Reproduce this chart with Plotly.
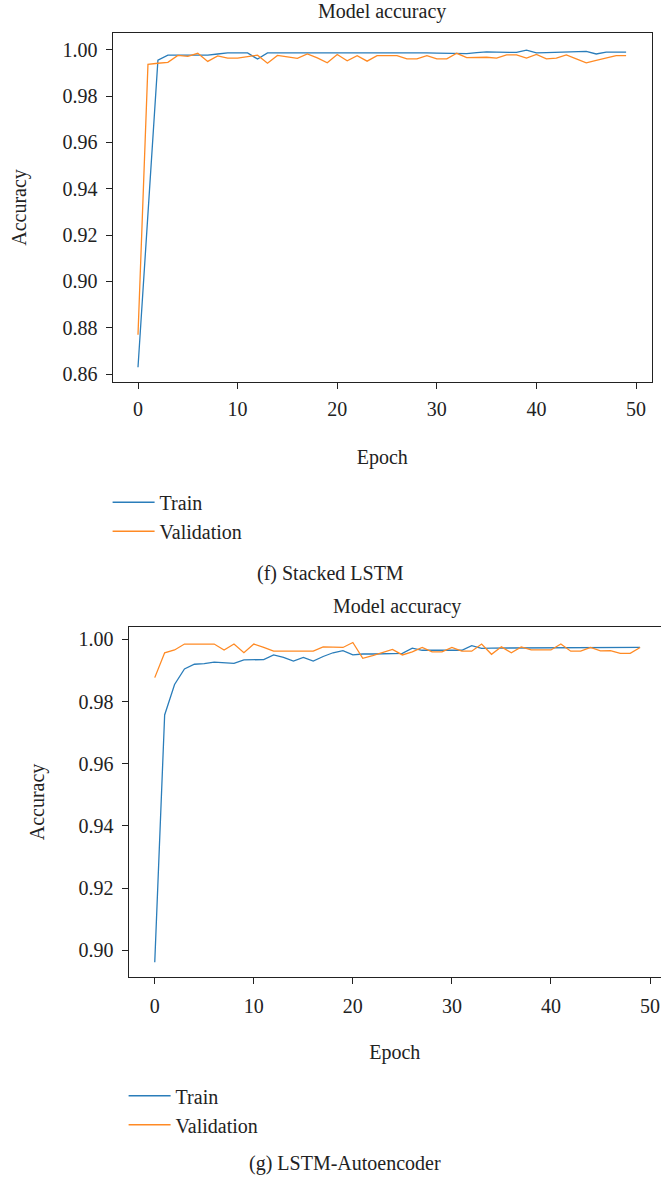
import plotly.graph_objects as go

epochs = list(range(50))

# (f) Stacked LSTM
stacked_train = [0.863, 0.929, 0.9955, 0.9977, 0.9977, 0.9977, 0.9977, 0.9977, 0.9982, 0.9987,
                 0.9987, 0.9987, 0.9960, 0.9987, 0.9987, 0.9987, 0.9987, 0.9987, 0.9987, 0.9987,
                 0.9987, 0.9987, 0.9987, 0.9990, 0.9987, 0.9987, 0.9987, 0.9987, 0.9987, 0.9987,
                 0.9986, 0.9985, 0.9984, 0.9984, 0.9988, 0.9991, 0.9990, 0.9989, 0.9989, 0.9999,
                 0.9987, 0.9988, 0.9989, 0.9990, 0.9991, 0.9993, 0.9982, 0.9990, 0.9990, 0.9990]
stacked_val = [0.877, 0.9937, 0.9942, 0.9946, 0.9976, 0.9972, 0.9985, 0.9950, 0.9974, 0.9964,
               0.9964, 0.9970, 0.9977, 0.9942, 0.9976, 0.9970, 0.9963, 0.9982, 0.9965, 0.9944,
               0.9980, 0.9953, 0.9975, 0.9951, 0.9975, 0.9975, 0.9975, 0.9961, 0.9961, 0.9975,
               0.9961, 0.9961, 0.9985, 0.9966, 0.9968, 0.9968, 0.9964, 0.9978, 0.9978, 0.9964,
               0.9980, 0.9961, 0.9964, 0.9978, 0.9961, 0.9944, 0.9954, 0.9965, 0.9975, 0.9975]

# (g) LSTM-Autoencoder
ae_train = [0.8962, 0.9757, 0.9855, 0.9905, 0.9920, 0.9922, 0.9927, 0.9925, 0.9923, 0.9934,
            0.9935, 0.9935, 0.9950, 0.9942, 0.9930, 0.9942, 0.9930, 0.9945, 0.9957, 0.9964,
            0.9950, 0.9953, 0.9953, 0.9953, 0.9953, 0.9955, 0.9972, 0.9965, 0.9965, 0.9965,
            0.9965, 0.9965, 0.9980, 0.9971, 0.9972, 0.9972, 0.9972, 0.9972, 0.9972, 0.9972,
            0.9974, 0.9974, 0.9974, 0.9974, 0.9974, 0.9974, 0.9974, 0.9974, 0.9974, 0.9974]
ae_val = [0.9877, 0.9957, 0.9966, 0.9985, 0.9985, 0.9985, 0.9985, 0.9966, 0.9985, 0.9957,
          0.9985, 0.9974, 0.9962, 0.9962, 0.9962, 0.9962, 0.9962, 0.9976, 0.9976, 0.9974,
          0.9990, 0.9939, 0.9948, 0.9958, 0.9968, 0.9950, 0.9960, 0.9974, 0.9960, 0.9960,
          0.9974, 0.9962, 0.9962, 0.9985, 0.9952, 0.9976, 0.9957, 0.9976, 0.9966, 0.9966,
          0.9966, 0.9985, 0.9962, 0.9962, 0.9974, 0.9963, 0.9964, 0.9955, 0.9955, 0.9974]

x_ticks = [0, 10, 20, 30, 40, 50]
y_ticks_top = [0.86, 0.88, 0.90, 0.92, 0.94, 0.96, 0.98, 1.00]
y_ticks_bottom = [0.90, 0.92, 0.94, 0.96, 0.98, 1.00]

BLUE = "#2a7dba"
ORANGE = "#ff8a24"
FONT = "Liberation Serif"
W, H = 661, 1181

fig = go.Figure()
fig.add_trace(go.Scatter(x=epochs, y=stacked_train, name="Train", mode="lines",
                         line=dict(color=BLUE, width=1.3), xaxis="x", yaxis="y",
                         legend="legend", legendgroup="a"))
fig.add_trace(go.Scatter(x=epochs, y=stacked_val, name="Validation", mode="lines",
                         line=dict(color=ORANGE, width=1.3), xaxis="x", yaxis="y",
                         legend="legend", legendgroup="b"))
fig.add_trace(go.Scatter(x=epochs, y=ae_train, name="Train", mode="lines",
                         line=dict(color=BLUE, width=1.3), xaxis="x2", yaxis="y2",
                         legend="legend2", legendgroup="c"))
fig.add_trace(go.Scatter(x=epochs, y=ae_val, name="Validation", mode="lines",
                         line=dict(color=ORANGE, width=1.3), xaxis="x2", yaxis="y2",
                         legend="legend2", legendgroup="d"))

axis_common = dict(showgrid=False, zeroline=False, showline=True, linecolor="#222",
                   linewidth=1, ticks="outside", ticklen=6, tickwidth=1, tickcolor="#222",
                   tickfont=dict(family=FONT, size=20, color="#222"))

fig.update_layout(
    width=W, height=H,
    margin=dict(l=0, r=0, t=0, b=0),
    paper_bgcolor="white", plot_bgcolor="white",
    font=dict(family=FONT, size=20, color="#222"),
    xaxis=dict(domain=[112.6 / W, 652 / W], range=[-2.55, 51.6], anchor="y",
               tickvals=x_ticks, mirror=True, ticklabelstandoff=3,
               title=dict(text="Epoch", font=dict(family=FONT, size=20), standoff=30),
               **axis_common),
    yaxis=dict(domain=[1 - 383 / H, 1 - 33 / H], range=[0.8566, 1.0073], anchor="x",
               tickvals=y_ticks_top, tickformat=".2f", mirror=True, ticklabelstandoff=4,
               title=dict(text="Accuracy", font=dict(family=FONT, size=20), standoff=30),
               **axis_common),
    xaxis2=dict(domain=[128.6 / W, 1.0], range=[-2.64, 51.11], anchor="y2",
                tickvals=x_ticks, mirror=True, ticklabelstandoff=5,
                title=dict(text="Epoch", font=dict(family=FONT, size=20), standoff=29),
                **axis_common),
    yaxis2=dict(domain=[1 - 979 / H, 1 - 629 / H], range=[0.8916, 1.00385], anchor="x2",
                tickvals=y_ticks_bottom, tickformat=".2f", mirror=False, ticklabelstandoff=4,
                title=dict(text="Accuracy", font=dict(family=FONT, size=20), standoff=28),
                **axis_common),
    legend=dict(x=107.6 / W, y=1 - 484 / H, xanchor="left", yanchor="top",
                font=dict(family=FONT, size=20), itemwidth=42, tracegroupgap=0,
                bgcolor="rgba(0,0,0,0)"),
    legend2=dict(x=123.6 / W, y=1 - 1079 / H, xanchor="left", yanchor="top",
                 font=dict(family=FONT, size=20), itemwidth=42, tracegroupgap=0,
                 bgcolor="rgba(0,0,0,0)"),
    annotations=[
        dict(text="Model accuracy", x=382 / W, y=1 - 12 / H, xref="paper", yref="paper",
             xanchor="center", yanchor="middle", showarrow=False,
             font=dict(family=FONT, size=20)),
        dict(text="Model accuracy", x=397 / W, y=1 - 608 / H, xref="paper", yref="paper",
             xanchor="center", yanchor="middle", showarrow=False,
             font=dict(family=FONT, size=20)),
        dict(text="(f) Stacked LSTM", x=330 / W, y=1 - 575 / H, xref="paper", yref="paper",
             xanchor="center", yanchor="middle", showarrow=False,
             font=dict(family=FONT, size=20)),
        dict(text="(g) LSTM-Autoencoder", x=345 / W, y=1 - 1166 / H, xref="paper", yref="paper",
             xanchor="center", yanchor="middle", showarrow=False,
             font=dict(family=FONT, size=20)),
    ],
)

fig.write_html("out.html")
